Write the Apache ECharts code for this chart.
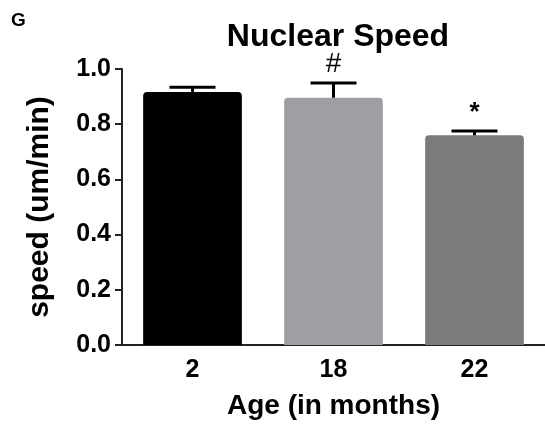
<!DOCTYPE html>
<html>
<head>
<meta charset="utf-8">
<script src="https://cdn.jsdelivr.net/npm/echarts@6/dist/echarts.min.js"></script>
<style>
html,body{margin:0;padding:0;background:#fff;}
#main{width:545px;height:425px;}
</style>
</head>
<body>
<div id="main"></div>
<script>
// data
var ages = ['2', '18', '22'];
var speed = [0.917, 0.896, 0.760];
var sem = [0.017, 0.053, 0.015];
var marks = ['', '#', '*'];
var barColors = ['#000000', '#9e9fa3', '#7b7b7b'];

var FONT = '"Liberation Sans", Arial, sans-serif';

var myChart = echarts.init(document.getElementById('main'));

var barData = [];
for (var i = 0; i < speed.length; i++) {
  barData.push({ value: speed[i], itemStyle: { color: barColors[i] } });
}
var errData = [];
for (var j = 0; j < speed.length; j++) {
  errData.push([j, speed[j], sem[j]]);
}

var option = {
  backgroundColor: '#fff',
  animation: false,
  title: {
    text: 'Nuclear Speed',
    left: 333,
    top: 16,
    textAlign: 'center',
    textStyle: { fontFamily: FONT, fontSize: 32, fontWeight: 'bold', color: '#000' }
  },
  graphic: [{
    type: 'text',
    left: 11,
    top: 11,
    style: { text: 'G', font: 'bold 19px ' + FONT, fill: '#000' }
  }],
  grid: { left: 122, right: 0, top: 69, bottom: 74 },
  xAxis: {
    type: 'category',
    data: ages,
    name: 'Age (in months)',
    nameLocation: 'middle',
    nameGap: 47,
    nameTextStyle: { fontFamily: FONT, fontSize: 28, fontWeight: 'bold', color: '#000' },
    axisLine: { lineStyle: { color: '#222', width: 2 } },
    axisTick: { alignWithLabel: true, length: 7, lineStyle: { color: '#222', width: 2 } },
    axisLabel: { margin: 13, fontFamily: FONT, fontSize: 25, fontWeight: 'bold', color: '#000' }
  },
  yAxis: {
    type: 'value',
    min: 0,
    max: 1.0,
    interval: 0.2,
    name: 'speed (um/min)',
    nameLocation: 'middle',
    nameGap: 67,
    nameTextStyle: { fontFamily: FONT, fontSize: 30, fontWeight: 'bold', color: '#000' },
    axisLine: { show: true, lineStyle: { color: '#222', width: 2 } },
    axisTick: { show: true, length: 7, lineStyle: { color: '#222', width: 2 } },
    splitLine: { show: false },
    axisLabel: {
      margin: 11,
      fontFamily: FONT, fontSize: 25, fontWeight: 'bold', color: '#000',
      formatter: function (v) { return v.toFixed(1); }
    }
  },
  series: [
    {
      type: 'bar',
      data: barData,
      barWidth: '70%',
      itemStyle: { borderRadius: [4, 4, 0, 0] }
    },
    {
      type: 'custom',
      data: errData,
      z: 10,
      renderItem: function (params, api) {
        var x = api.value(0);
        var mean = api.value(1);
        var err = api.value(2);
        var mk = marks[params.dataIndex];
        var base = api.coord([x, mean]);
        var top = api.coord([x, mean + err]);
        var half = 23;
        var children = [
          { type: 'line', shape: { x1: base[0], y1: base[1], x2: top[0], y2: top[1] },
            style: { stroke: '#000', lineWidth: 3 } },
          { type: 'line', shape: { x1: top[0] - half, y1: top[1], x2: top[0] + half, y2: top[1] },
            style: { stroke: '#000', lineWidth: 3 } }
        ];
        if (mk) {
          children.push({
            type: 'text',
            style: {
              text: mk, x: top[0], y: top[1] - 5,
              textAlign: 'center', textVerticalAlign: 'bottom',
              font: (mk === '*' ? 'bold 26px ' : '28px ') + FONT, fill: '#000'
            }
          });
        }
        return { type: 'group', children: children };
      }
    }
  ]
};

myChart.setOption(option);
</script>
</body>
</html>
